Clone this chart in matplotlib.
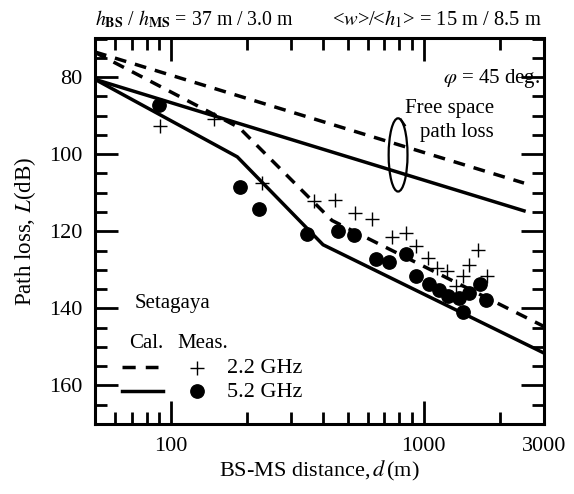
import numpy as np
import matplotlib
matplotlib.use("Agg")
from matplotlib import pyplot as plt
from matplotlib.patches import Ellipse
import matplotlib.ticker as mticker

plt.rcParams['font.family'] = ['Liberation Serif', 'DejaVu Serif']
plt.rcParams['mathtext.fontset'] = 'stix'

# free space path loss
fs_dist = [50, 2500]
fs_loss_22 = [73.5, 107.5]
fs_loss_52 = [80.6, 114.7]

# calculated curves
cal_dist_22 = [50, 186, 434, 3000]
cal_loss_22 = [73.6, 93.1, 117.2, 144.7]
cal_dist_52 = [50, 183, 400, 3000]
cal_loss_52 = [80.6, 100.7, 123.5, 151.6]

# measured, 2.2 GHz
meas_dist_22 = [90.7, 148, 229, 369, 448, 535, 623, 747, 851, 932, 1043, 1132,
                1244, 1350, 1434, 1514, 1644, 1784]
meas_loss_22 = [92.8, 91.0, 107.4, 112.2, 111.9, 115.3, 116.9, 121.4, 120.5, 123.7,
                127.0, 129.6, 130.3, 134.1, 131.6, 128.7, 124.8, 131.7]

# measured, 5.2 GHz
meas_dist_52 = [89.3, 188, 223, 345, 458, 530, 648, 731, 851, 932, 1052, 1152,
                1251, 1383, 1514, 1669, 1763, 1434]
meas_loss_52 = [87.3, 108.6, 114.3, 120.8, 119.9, 121.1, 127.2, 128.1, 125.9, 131.6,
                133.6, 135.2, 136.9, 137.3, 135.9, 133.6, 137.9, 141.0]

x_ticks = [100, 1000, 3000]
y_ticks = [80, 100, 120, 140, 160]

DASH = (0, (3.4, 2.6))
LW = 2.5

fig = plt.figure(figsize=(5.74, 4.94), dpi=100)
ax = fig.add_axes([95 / 574, 70 / 494, 449 / 574, 385.5 / 494])

ax.plot(fs_dist, fs_loss_22, color='black', lw=LW, linestyle=DASH)
ax.plot(fs_dist, fs_loss_52, color='black', lw=LW)
ax.plot(cal_dist_22, cal_loss_22, color='black', lw=LW, linestyle=DASH)
ax.plot(cal_dist_52, cal_loss_52, color='black', lw=LW)
ax.plot(meas_dist_22, meas_loss_22, '+', color='black', markersize=9.5, mew=1.0)
ax.plot(meas_dist_52, meas_loss_52, 'o', color='black', markersize=9.6)

ax.set_xscale('log')
ax.set_xlim(50, 3000)
ax.set_ylim(170, 70)

ax.xaxis.set_major_locator(mticker.FixedLocator(x_ticks))
ax.xaxis.set_major_formatter(mticker.FixedFormatter([str(t) for t in x_ticks]))
ax.xaxis.set_minor_locator(mticker.FixedLocator([60, 70, 80, 90, 200, 300, 400, 500,
                                                 600, 700, 800, 900, 2000]))
ax.xaxis.set_minor_formatter(mticker.NullFormatter())
ax.yaxis.set_major_locator(mticker.FixedLocator(y_ticks))
ax.yaxis.set_minor_locator(mticker.MultipleLocator(5))

ax.tick_params(which='both', direction='in', top=True, right=True, width=2, labelsize=16)
ax.tick_params(which='major', length=16.5, pad=9)
ax.tick_params(which='minor', length=8.6)
for s in ax.spines.values():
    s.set_linewidth(2.2)

ax.set_xlabel('BS-MS distance,$\\,d\\,$(m)', fontsize=16)
ax.set_ylabel('Path loss, $L$(dB)', fontsize=16.5)
ax.xaxis.set_label_coords(0.5, -0.092)
ax.yaxis.set_label_coords(-0.128, 0.5)

# annotations
ax.text(0.991, 0.884, '$\\varphi$ = 45 deg.', transform=ax.transAxes, ha='right',
        va='baseline', fontsize=15)
ax.text(0.8886, 0.806, 'Free space', transform=ax.transAxes, ha='right',
        va='baseline', fontsize=15)
ax.text(0.8886, 0.745, 'path loss', transform=ax.transAxes, ha='right',
        va='baseline', fontsize=15)
ax.add_patch(Ellipse((0.675, 0.698), 0.042, 0.19, transform=ax.transAxes,
                     fill=False, lw=1.6, color='black'))
ax.plot([0.681, 0.69], [0.79, 0.775], transform=ax.transAxes, color='black', lw=1.6)
ax.text(0.0891, 0.300, 'Setagaya', transform=ax.transAxes, va='baseline', fontsize=15)

# hand made legend
ax.text(0.0764, 0.196, 'Cal.', transform=ax.transAxes, va='baseline', fontsize=15)
ax.text(0.183, 0.196, 'Meas.', transform=ax.transAxes, va='baseline', fontsize=15)
ax.plot([0.0595, 0.141], [0.1487, 0.1487], transform=ax.transAxes, color='black',
        lw=LW, linestyle=(0, (3.8, 2.9)))
ax.plot([0.0595, 0.152], [0.0869, 0.0869], transform=ax.transAxes, color='black', lw=LW)
ax.plot([0.2265], [0.145], '+', transform=ax.transAxes, color='black', markersize=9.5, mew=1.0)
ax.plot([0.228], [0.0869], 'o', transform=ax.transAxes, color='black', markersize=9.6)
ax.text(0.293, 0.133, '2.2 GHz', transform=ax.transAxes, va='baseline', fontsize=16)
ax.text(0.293, 0.0708, '5.2 GHz', transform=ax.transAxes, va='baseline', fontsize=16)

# header
fig.text(95 / 574, 0.948, '$h_{\\mathbf{BS}}$ / $h_{\\mathbf{MS}}$ = 37 m / 3.0 m',
         ha='left', va='baseline', fontsize=14.3)
fig.text(542 / 574, 0.948, '<$w$>/<$h_1$> = 15 m / 8.5 m',
         ha='right', va='baseline', fontsize=14.8)

plt.savefig('out.png', dpi=100)
